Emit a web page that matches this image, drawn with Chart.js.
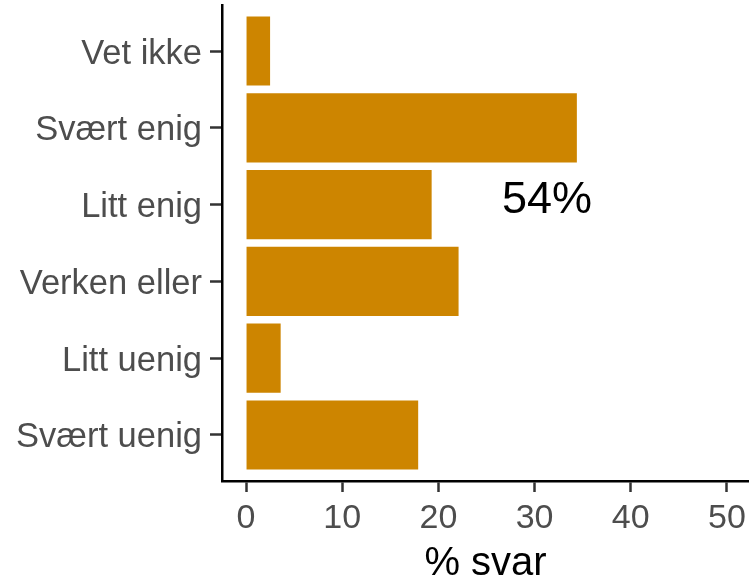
<!DOCTYPE html>
<html>
<head>
<meta charset="utf-8">
<script src="https://cdn.jsdelivr.net/npm/chart.js@4/dist/chart.umd.min.js"></script>
<style>
  html, body { margin: 0; padding: 0; background: #fff; }
  #wrap { width: 749px; height: 583px; }
</style>
</head>
<body>
<div id="wrap"><canvas id="svarChart" width="749" height="583"></canvas></div>
<script>
// ========================
// DATA
// ========================
const categories = ['Vet ikke', 'Svært enig', 'Litt enig', 'Verken eller', 'Litt uenig', 'Svært uenig'];
const shares = [2.5, 34.4, 19.3, 22.1, 3.6, 17.9];
const xTicks = [0, 10, 20, 30, 40, 50];
const noteText = '54%';
const notePos = [31.3, 2.95];

const FONT = "'Liberation Sans', Arial, sans-serif";

// text label inside the panel, placed through the scales
const notePlugin = {
  id: 'note',
  afterDatasetsDraw(chart) {
    const { ctx, scales } = chart;
    ctx.save();
    ctx.font = '45px ' + FONT;
    ctx.fillStyle = '#000';
    ctx.textAlign = 'center';
    ctx.textBaseline = 'middle';
    ctx.fillText(noteText, scales.x.getPixelForValue(notePos[0]), scales.y.getPixelForValue(notePos[1]));
    ctx.restore();
  }
};

// ========================
// CHART
// ========================
const ctx = document.getElementById('svarChart').getContext('2d');
new Chart(ctx, {
  type: 'bar',
  data: {
    datasets: [{
      data: shares.map((v, i) => ({ x: v, y: i + 1 })),
      backgroundColor: '#CD8500',
      borderWidth: 0,
      barPercentage: 0.9,
      categoryPercentage: 1
    }]
  },
  options: {
    indexAxis: 'y',
    responsive: false,
    animation: false,
    layout: { padding: { top: 5, right: 0, bottom: 0, left: 0 } },
    plugins: {
      legend: { display: false },
      tooltip: { enabled: false }
    },
    scales: {
      x: {
        type: 'linear',
        min: -2.5,
        max: 52.3,
        afterBuildTicks: axis => { axis.ticks = xTicks.map(v => ({ value: v })); },
        afterFit: axis => { axis.height = 102; axis.paddingRight = 0; axis.paddingLeft = 0; },
        grid: { drawOnChartArea: false, drawTicks: true, tickLength: 11, tickColor: '#333', tickWidth: 2.5 },
        border: { display: true, color: '#000', width: 2.5 },
        ticks: { color: '#4d4d4d', font: { family: FONT, size: 34 }, padding: 6, maxRotation: 0 },
        title: {
          display: true,
          text: '% svar',
          color: '#000',
          font: { family: FONT, size: 40 },
          padding: { top: 0, bottom: -5 }
        }
      },
      y: {
        type: 'linear',
        min: 0.4,
        max: 6.6,
        reverse: true,
        offset: false,
        afterBuildTicks: axis => { axis.ticks = categories.map((c, i) => ({ value: i + 1 })); },
        afterFit: axis => { axis.width = 222; axis.paddingTop = 0; axis.paddingBottom = 0; },
        grid: { offset: false, drawOnChartArea: false, drawTicks: true, tickLength: 12, tickColor: '#333', tickWidth: 2.5 },
        border: { display: true, color: '#000', width: 2.5 },
        ticks: {
          color: '#4d4d4d',
          font: { family: FONT, size: 34.5 },
          padding: 8,
          labelOffset: 3,
          autoSkip: false,
          callback: v => categories[v - 1]
        }
      }
    }
  },
  plugins: [notePlugin]
});
</script>
</body>
</html>
